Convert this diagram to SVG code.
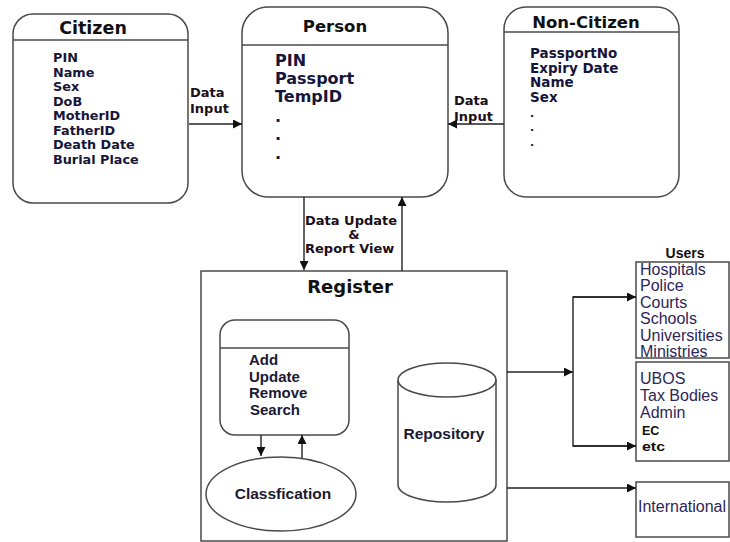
<svg xmlns="http://www.w3.org/2000/svg" width="730" height="542" viewBox="0 0 730 542">
  <style>
    .box { fill: #fff; stroke: #4a4a4a; stroke-width: 1.5; }
    .sep { stroke: #4a4a4a; stroke-width: 1.3; }
    .wire { fill: none; stroke: #222; stroke-width: 1.4; }
    .title { font-family: "DejaVu Sans", Verdana, sans-serif; font-weight: bold; fill: #111; }
    .field { font-family: "DejaVu Sans", Verdana, sans-serif; font-weight: bold; fill: #16163a; }
    .dot { font-size: 11px; }
    .lbl { font-family: "DejaVu Sans", Verdana, sans-serif; font-weight: bold; font-size: 13px; fill: #1a1020; }
    .op { font-family: "Liberation Sans", Arial, sans-serif; font-weight: bold; font-size: 15px; fill: #1a1a33; }
    .big { font-size: 15.5px; }
    .user { font-family: "Liberation Sans", Arial, sans-serif; font-size: 16px; fill: #2e2658; }
    .ubold { font-family: "Liberation Sans", Arial, sans-serif; font-weight: bold; font-size: 12.5px; fill: #111; }
    .head { font-size: 14px; }
  </style>
  <defs>
    <marker id="arrow" viewBox="0 0 10 10" refX="10" refY="5" markerWidth="9" markerHeight="9" markerUnits="userSpaceOnUse" orient="auto">
      <path d="M0,0 L10,5 L0,10 z" fill="#111"/>
    </marker>
  </defs>

  <rect width="730" height="542" fill="#fff"/>

  <!-- Citizen entity -->
  <g id="citizen">
    <rect class="box" x="13" y="14" width="175" height="189" rx="20"/>
    <line class="sep" x1="13" y1="40" x2="188" y2="40"/>
    <text class="title" x="93" y="34" font-size="17.5" text-anchor="middle">Citizen</text>
    <g class="field" font-size="12.8">
      <text x="53" y="62">PIN</text>
      <text x="53" y="76.5">Name</text>
      <text x="53" y="91">Sex</text>
      <text x="53" y="105.5">DoB</text>
      <text x="53" y="120">MotherID</text>
      <text x="53" y="134.5">FatherID</text>
      <text x="53" y="149">Death Date</text>
      <text x="53" y="163.5">Burial Place</text>
    </g>
  </g>

  <!-- Person entity -->
  <g id="person">
    <rect class="box" x="242" y="7" width="206" height="190" rx="26"/>
    <line class="sep" x1="242" y1="45" x2="448" y2="45"/>
    <text class="title" x="335" y="32" font-size="16.5" text-anchor="middle">Person</text>
    <g class="field" font-size="16">
      <text x="275" y="66">PIN</text>
      <text x="275" y="84">Passport</text>
      <text x="275" y="102">TempID</text>
      <text x="275" y="122">.</text>
      <text x="275" y="140">.</text>
      <text x="275" y="159">.</text>
    </g>
  </g>

  <!-- Non-Citizen entity -->
  <g id="non-citizen">
    <rect class="box" x="504" y="7" width="175" height="190" rx="22"/>
    <line class="sep" x1="504" y1="32" x2="679" y2="32"/>
    <text class="title" x="586" y="28" font-size="16.5" text-anchor="middle">Non-Citizen</text>
    <g class="field" font-size="13.5">
      <text x="530" y="58">PassportNo</text>
      <text x="530" y="72.5">Expiry Date</text>
      <text x="530" y="87">Name</text>
      <text x="530" y="102">Sex</text>
      <text class="dot" x="530" y="117">.</text>
      <text class="dot" x="530" y="131">.</text>
      <text class="dot" x="530" y="146">.</text>
    </g>
  </g>

  <!-- Register container -->
  <g id="register">
    <rect class="box" x="201" y="271" width="306" height="270"/>
    <text class="title" x="350" y="293" font-size="18" text-anchor="middle">Register</text>
  </g>

  <!-- Operations box -->
  <g id="operations">
    <rect class="box" x="220" y="320" width="129" height="115" rx="15"/>
    <line class="sep" x1="220" y1="348" x2="349" y2="348"/>
    <text class="op" x="249" y="365">Add</text>
    <text class="op" x="249" y="381.5">Update</text>
    <text class="op" x="249" y="398">Remove</text>
    <text class="op" x="250" y="414.5">Search</text>
  </g>

  <!-- Classification -->
  <g id="classification">
    <ellipse class="box" cx="281" cy="494" rx="75" ry="37"/>
    <text class="op big" x="283" y="499" text-anchor="middle">Classfication</text>
  </g>

  <!-- Repository store -->
  <g id="repository">
    <path class="box" d="M398,380 V485 A49,17 0 0 0 496,485 V380"/>
    <ellipse class="box" cx="447" cy="380" rx="49" ry="17"/>
    <text class="op big" x="444" y="439" text-anchor="middle">Repository</text>
  </g>

  <!-- Users -->
  <g id="users">
    <text class="ubold head" x="685" y="258" text-anchor="middle">Users</text>
    <rect class="box" x="636" y="262" width="93" height="96"/>
    <text class="user" x="640" y="274.5">Hospitals</text>
    <text class="user" x="640" y="291">Police</text>
    <text class="user" x="640" y="307.5">Courts</text>
    <text class="user" x="640" y="324">Schools</text>
    <text class="user" x="640" y="341">Universities</text>
    <text class="user" x="640" y="357">Ministries</text>
  </g>

  <g id="agencies">
    <rect class="box" x="636" y="362" width="93" height="99"/>
    <text class="user" x="640" y="384">UBOS</text>
    <text class="user" x="640" y="401">Tax Bodies</text>
    <text class="user" x="640" y="418">Admin</text>
    <text class="ubold" x="642" y="435">EC</text>
    <text class="ubold" x="642" y="451" textLength="23" lengthAdjust="spacingAndGlyphs">etc</text>
  </g>

  <g id="international">
    <rect class="box" x="636" y="482" width="93" height="55"/>
    <text class="user" x="638" y="512">International</text>
  </g>

  <!-- Connectors -->
  <g id="connectors">
    <line class="wire" x1="189" y1="124" x2="242" y2="124" marker-end="url(#arrow)"/>
    <line class="wire" x1="504" y1="124" x2="448" y2="124" marker-end="url(#arrow)"/>
    <line class="wire" x1="304" y1="197" x2="304" y2="270" marker-end="url(#arrow)"/>
    <line class="wire" x1="402" y1="271" x2="402" y2="197" marker-end="url(#arrow)"/>
    <line class="wire" x1="261" y1="435" x2="261" y2="456" marker-end="url(#arrow)"/>
    <line class="wire" x1="302" y1="458" x2="302" y2="435" marker-end="url(#arrow)"/>
    <line class="wire" x1="507" y1="372" x2="573" y2="372" marker-end="url(#arrow)"/>
    <polyline class="wire" points="636,297 573,297 573,446 636,446"/>
    <line class="wire" x1="573" y1="297" x2="636" y2="297" marker-end="url(#arrow)"/>
    <line class="wire" x1="573" y1="446" x2="636" y2="446" marker-end="url(#arrow)"/>
    <line class="wire" x1="507" y1="488" x2="636" y2="488" marker-end="url(#arrow)"/>
  </g>

  <!-- Connector labels -->
  <g id="connector-labels">
    <text class="lbl" x="190" y="97">Data</text>
    <text class="lbl" x="190" y="113">Input</text>
    <text class="lbl" x="454" y="105">Data</text>
    <text class="lbl" x="454" y="121">Input</text>
    <text class="lbl" x="305" y="225">Data Update</text>
    <text class="lbl" x="354" y="239" text-anchor="middle">&amp;</text>
    <text class="lbl" x="305" y="253">Report View</text>
  </g>
</svg>
